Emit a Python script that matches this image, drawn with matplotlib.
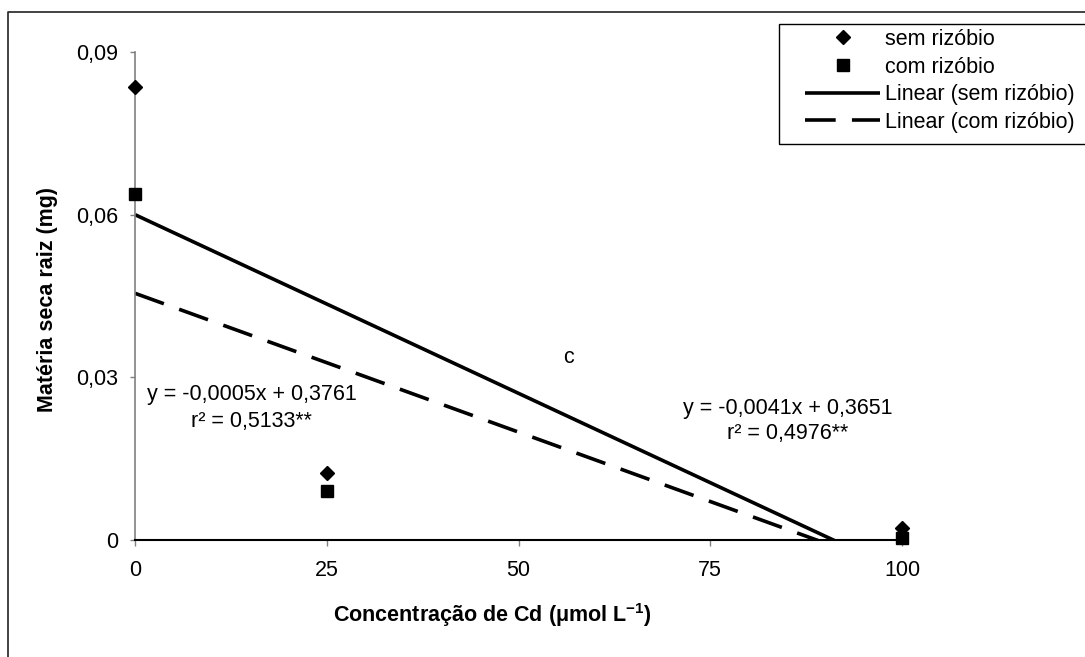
import matplotlib
matplotlib.use("Agg")
import matplotlib.pyplot as plt
from matplotlib.patches import Rectangle
from matplotlib.lines import Line2D
import numpy as np

plt.rcParams['font.family'] = ['Liberation Sans', 'DejaVu Sans']
plt.rcParams['mathtext.fontset'] = 'custom'
plt.rcParams['mathtext.rm'] = 'Liberation Sans'
plt.rcParams['mathtext.bf'] = 'Liberation Sans:bold'

# ---- data ----
concentracao = [0, 25, 100]
sem_rizobio = [0.0836, 0.0124, 0.0023]
com_rizobio = [0.0639, 0.0090, 0.0004]

fit_sem_intercept = 0.0600
fit_sem_slope = -0.000659
fit_com_intercept = 0.0455
fit_com_slope = -0.000512

x_ticks = [0, 25, 50, 75, 100]
y_ticks = [0, 0.03, 0.06, 0.09]
y_tick_labels = ["0", "0,03", "0,06", "0,09"]

eq_sem = "y = -0,0041x + 0,3651\nr² = 0,4976**"
eq_com = "y = -0,0005x + 0,3761\nr² = 0,5133**"

FS = 15.5

W, H = 1085, 657
fig = plt.figure(figsize=(W / 100, H / 100), dpi=100)
ax = fig.add_axes([135 / W, 1 - 540 / H, (902 - 135) / W, (540 - 52) / H])

# trend lines
xl = np.array([0, 100])
ax.plot(xl, fit_sem_intercept + fit_sem_slope * xl, color='black', lw=2.6,
        solid_capstyle='butt', label='Linear (sem rizóbio)', zorder=2)
ax.plot(xl, fit_com_intercept + fit_com_slope * xl, color='black', lw=2.6,
        dashes=(8.5, 4.5), dash_capstyle='butt', label='Linear (com rizóbio)', zorder=2)

# points
ax.plot(concentracao, sem_rizobio, linestyle='none', marker='D', markersize=7.6,
        color='black', clip_on=False, label='sem rizóbio', zorder=4)
ax.plot(concentracao, com_rizobio, linestyle='none', marker='s', markersize=8.3,
        color='black', clip_on=False, label='com rizóbio', zorder=4)

ax.set_xlim(0, 100)
ax.set_ylim(0, 0.09)
ax.set_xticks(x_ticks)
ax.set_xticklabels([str(v) for v in x_ticks])
ax.set_yticks(y_ticks)
ax.set_yticklabels(y_tick_labels)

for s in ['top', 'right']:
    ax.spines[s].set_visible(False)
ax.spines['left'].set_color('#808080')
ax.spines['left'].set_linewidth(1.2)
ax.spines['bottom'].set_color('black')
ax.spines['bottom'].set_linewidth(1.5)
ax.tick_params(axis='y', direction='out', length=3.6, width=1, color='#808080',
               pad=8.6, labelsize=FS)
ax.tick_params(axis='x', direction='out', length=4.3, width=1, color='#808080',
               pad=10, labelsize=FS)

# annotations
ax.text(15.2, 0.02435, eq_com, ha='center', va='center', fontsize=FS, linespacing=1.35)
ax.text(85.1, 0.02196, eq_sem, ha='center', va='center', fontsize=FS, linespacing=1.3)
ax.text(56.5, 0.0337, "c", ha='center', va='center', fontsize=FS)

# axis labels
fig.text(492 / W, 1 - 615 / H, r"Concentração de Cd ($\mathbf{\mu}$mol L$^{\mathbf{-1}}$)",
         ha='center', va='center', fontsize=FS, fontweight='bold')
fig.text(48 / W, 1 - 300 / H, "Matéria seca raiz (mg)", ha='center', va='center',
         rotation=90, fontsize=FS, fontweight='bold')

# legend with manual frame
handles, labels = ax.get_legend_handles_labels()
order = [2, 3, 0, 1]
leg = fig.legend([handles[i] for i in order], [labels[i] for i in order],
                 loc='upper left', bbox_to_anchor=(805 / W, 1 - 29 / H),
                 frameon=False, fontsize=FS, handlelength=3.5, handletextpad=0.2,
                 labelspacing=0.31, borderpad=0.0, borderaxespad=0.0)
fig.add_artist(Rectangle((779 / W, 1 - 144 / H), (W + 5 - 779) / W, 120 / H,
                         transform=fig.transFigure, fill=False, edgecolor='black',
                         lw=1.0, clip_on=False))

# outer figure border (top and left)
fig.add_artist(Line2D([8 / W, 8 / W, 1.01], [-0.01, 1 - 12 / H, 1 - 12 / H],
                      transform=fig.transFigure, color='#222222', lw=1.2))

fig.savefig("out.png", dpi=100)
